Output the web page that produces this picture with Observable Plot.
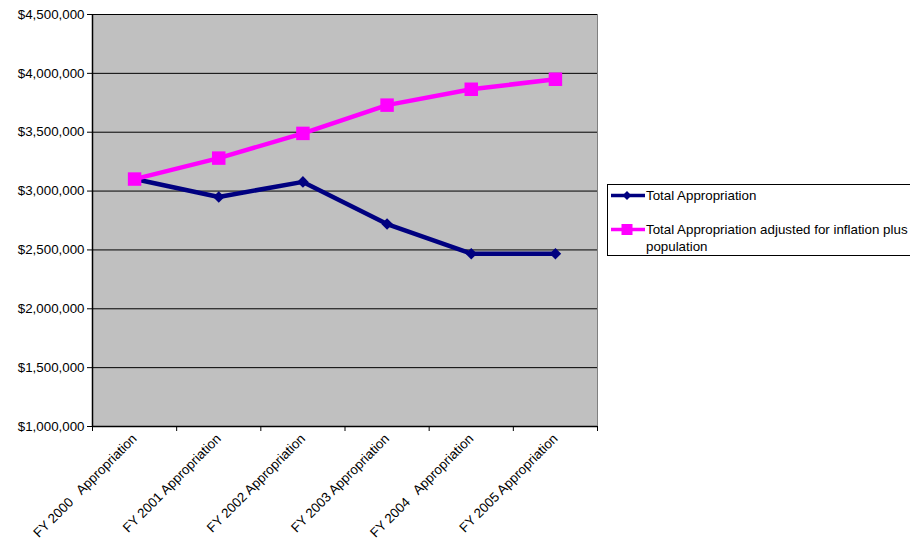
<!DOCTYPE html>
<html>
<head>
<meta charset="utf-8">
<script src="https://cdn.jsdelivr.net/npm/d3@7"></script>
<script src="https://cdn.jsdelivr.net/npm/@observablehq/plot@0.6"></script>
<style>
  html, body { margin: 0; padding: 0; background: #fff; }
  body { width: 910px; height: 552px; position: relative; overflow: hidden; font-family: Arial, "Liberation Sans", sans-serif; }
  #chart svg text { white-space: pre; }
  #legend { position: absolute; left: 607px; top: 184px; width: 320px; height: 72px; border: 1px solid #000; background: #fff; box-sizing: border-box; font-size: 13.33px; color: #000; }
  .entry { position: absolute; left: 2px; display: flex; align-items: flex-start; }
  .entry svg { flex: none; }
  .entry span { line-height: 17px; margin-left: 1px; }
</style>
</head>
<body>
<div id="chart"></div>
<div id="legend"></div>
<script>
const categories = [
  "FY 2000   Appropriation",
  "FY 2001 Appropriation",
  "FY 2002 Appropriation",
  "FY 2003 Appropriation",
  "FY 2004   Appropriation",
  "FY 2005 Appropriation"
];
const totalAppropriation = [3102000, 2950000, 3078000, 2720000, 2468000, 2468000];
const adjustedAppropriation = [3102000, 3280000, 3490000, 3730000, 3865000, 3950000];
const yTicks = [1000000, 1500000, 2000000, 2500000, 3000000, 3500000, 4000000, 4500000];
const seriesNames = ["Total Appropriation", "Total Appropriation adjusted for inflation plus population"];
const seriesColors = ["#000080", "#ff00ff"];

const idx = d3.range(categories.length);
const totalData = idx.map(i => ({i, v: totalAppropriation[i]}));
const adjData = idx.map(i => ({i, v: adjustedAppropriation[i]}));
const boundaries = d3.range(categories.length + 1).map(i => i - 0.5);
const money = d => "$" + d3.format(",")(d);

const chart = Plot.plot({
  width: 910,
  height: 552,
  marginLeft: 92,
  marginRight: 313,
  marginTop: 14,
  marginBottom: 126,
  style: {fontFamily: "Arial, 'Liberation Sans', sans-serif", fontSize: "13.33px", color: "#000", background: "transparent"},
  x: {domain: [-0.5, categories.length - 0.5]},
  y: {domain: [1000000, 4500000]},
  marks: [
    Plot.frame({fill: "#c0c0c0", stroke: "#808080"}),
    Plot.gridY(yTicks, {stroke: "#000", strokeOpacity: 1, strokeWidth: 1}),
    Plot.ruleX([-0.5], {stroke: "#000", strokeWidth: 1.5}),
    Plot.ruleY([1000000], {stroke: "#000", strokeWidth: 1.5}),
    Plot.axisY(yTicks, {tickSize: 5, tickPadding: 3, tickFormat: money, fontSize: 13.33, label: null, stroke: "#000"}),
    Plot.axisX(boundaries, {tickSize: 5, tickFormat: () => "", label: null, stroke: "#000"}),
    Plot.axisX(idx, {tickSize: 0, tickPadding: 10, tickRotate: -45, tickFormat: i => categories[i], fontSize: 13.33, label: null}),
    Plot.line(totalData, {x: "i", y: "v", stroke: seriesColors[0], strokeWidth: 4.5}),
    Plot.line(adjData, {x: "i", y: "v", stroke: seriesColors[1], strokeWidth: 4.5}),
    Plot.dot(totalData, {x: "i", y: "v", symbol: "diamond2", r: 5.2, fill: seriesColors[0], stroke: "none"}),
    Plot.dot(adjData, {x: "i", y: "v", symbol: "square", r: 7.6, fill: seriesColors[1], stroke: "none"})
  ]
});
document.getElementById("chart").appendChild(chart);

// legend
const legend = d3.select("#legend");
const tops = [2, 36];
seriesNames.forEach((name, k) => {
  const e = legend.append("div").attr("class", "entry").style("top", tops[k] + "px");
  const s = e.append("svg").attr("width", 35).attr("height", 17);
  s.append("line").attr("x1", 1).attr("x2", 35).attr("y1", 8.5).attr("y2", 8.5)
    .attr("stroke", seriesColors[k]).attr("stroke-width", 3.5);
  if (k === 0) {
    s.append("path").attr("d", d3.symbol(d3.symbolDiamond2, 50)()).attr("transform", "translate(17,8.5)").attr("fill", seriesColors[k]);
  } else {
    s.append("rect").attr("x", 11.5).attr("y", 3).attr("width", 11).attr("height", 11).attr("fill", seriesColors[k]);
  }
  const t = e.append("span");
  if (k === 1) {
    t.html("Total Appropriation adjusted for inflation plus<br>population");
  } else {
    t.text(name);
  }
});
</script>
</body>
</html>
